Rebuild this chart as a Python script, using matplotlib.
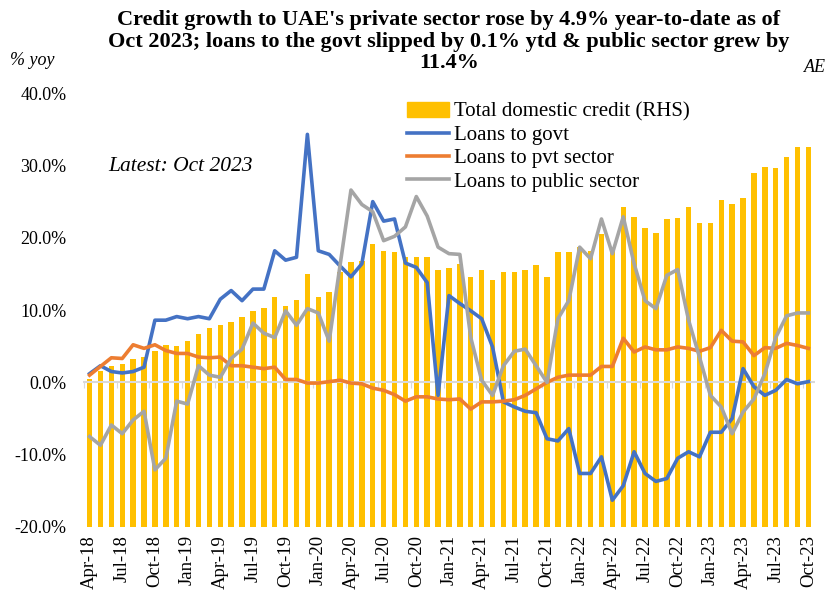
import numpy as np
import pandas as pd
import matplotlib
matplotlib.use("Agg")
import matplotlib.pyplot as plt
from matplotlib.patches import Patch
from matplotlib.lines import Line2D

plt.rcParams['font.family'] = ['Liberation Serif', 'DejaVu Serif']

months = pd.date_range('2018-04-01', '2023-10-01', freq='MS').strftime('%b-%y').tolist()

# total domestic credit, AED bn (RHS)
total_credit = [1604, 1616, 1622, 1625, 1633, 1635, 1643, 1652, 1650, 1657, 1667, 1675,
                1679, 1683, 1690, 1699, 1703, 1718, 1705, 1714, 1750, 1718, 1725, 1752,
                1767, 1768, 1791, 1782, 1780, 1774, 1774, 1773, 1755, 1758, 1764, 1746,
                1756, 1741, 1753, 1752, 1756, 1762, 1746, 1780, 1781, 1787, 1782, 1805,
                1785, 1842, 1829, 1814, 1806, 1826, 1827, 1843, 1820, 1820, 1852, 1847,
                1855, 1889, 1898, 1896, 1912, 1926, 1925]

# % yoy
loans_govt = [1.2, 2.3, 1.5, 1.3, 1.5, 2.1, 8.6, 8.6, 9.1, 8.8, 9.1, 8.8,
              11.5, 12.7, 11.3, 12.9, 12.9, 18.2, 16.9, 17.3, 34.3, 18.2, 17.7, 16.1,
              14.6, 16.4, 25.0, 22.3, 22.6, 16.5, 15.9, 13.8, -1.8, 12.0, 10.9, 9.9,
              8.8, 4.9, -2.7, -3.4, -4.0, -4.2, -7.8, -8.1, -6.4, -12.6, -12.6, -10.3,
              -16.3, -14.3, -9.6, -12.6, -13.7, -13.3, -10.5, -9.6, -10.3, -6.9, -6.9, -5.0,
              1.9, -0.6, -1.8, -1.1, 0.4, -0.2, 0.1]

loans_pvt = [1.0, 2.2, 3.4, 3.3, 5.2, 4.7, 5.2, 4.4, 4.0, 4.0, 3.5, 3.4,
             3.5, 2.3, 2.3, 2.1, 1.9, 2.1, 0.4, 0.4, -0.1, -0.1, 0.1, 0.3,
             -0.1, -0.2, -0.8, -1.1, -1.7, -2.6, -2.0, -2.0, -2.3, -2.4, -2.3, -3.7,
             -2.7, -2.7, -2.6, -2.4, -1.8, -0.9, 0.0, 0.7, 1.0, 1.0, 1.0, 2.2,
             2.2, 6.1, 4.2, 4.9, 4.5, 4.5, 4.9, 4.7, 4.3, 4.8, 7.2, 5.7,
             5.6, 3.7, 4.8, 4.7, 5.4, 5.1, 4.7]

loans_public = [-7.5, -8.7, -5.9, -7.1, -5.2, -4.0, -12.1, -10.5, -2.6, -3.0, 2.3, 1.0,
                0.7, 3.3, 4.6, 8.2, 6.8, 6.2, 9.9, 7.9, 10.2, 9.6, 5.7, 16.2,
                26.6, 24.6, 23.6, 19.6, 20.2, 21.5, 25.7, 23.0, 18.7, 17.8, 17.7, 6.2,
                0.3, -1.8, 2.3, 4.3, 4.6, 2.3, 0.0, 8.8, 11.3, 18.7, 17.1, 22.6,
                17.8, 22.9, 16.4, 11.3, 10.2, 14.8, 15.6, 8.6, 3.5, -1.8, -3.4, -7.1,
                -4.1, -2.3, 1.2, 6.2, 9.2, 9.6, 9.6]

x = np.arange(len(months))

fig = plt.figure(figsize=(8.27, 6.05), dpi=100)
ax = fig.add_axes([0.1004, 0.129, 0.885, 0.717])
ax2 = ax.twinx()

ax2.bar(x, total_credit, width=0.5, bottom=0, color='#FFC000')
ax2.set_ylim(1400, 2000)
ax2.set_yticks([])
for s in ax2.spines.values():
    s.set_visible(False)

ax.set_zorder(ax2.get_zorder() + 1)
ax.patch.set_visible(False)

ax.axhline(0, color='#D9D9D9', lw=1.5, zorder=1)
ax.plot(x, loans_govt, color='#4472C4', lw=2.6, zorder=3)
ax.plot(x, loans_pvt, color='#ED7D31', lw=2.6, zorder=3)
ax.plot(x, loans_public, color='#A5A5A5', lw=2.6, zorder=3)

ax.set_xlim(-0.6, len(months) - 0.4)
ax.set_ylim(-20, 40)
ax.set_yticks(np.arange(-20, 41, 10))
ax.set_yticklabels(['%.1f%%' % v for v in np.arange(-20, 41, 10)], fontsize=13)
ax.tick_params(axis='y', length=0, pad=12)
for s in ax.spines.values():
    s.set_visible(False)

# tick marks on the zero line
ax.spines['bottom'].set_position(('data', 0))
ax.set_xticks(np.arange(-0.5, len(months), 3))
ax.tick_params(axis='x', length=4, color='#D9D9D9', labelbottom=False)

sec = ax.secondary_xaxis(0.0)
sec.set_xticks(x[::3])
sec.set_xticklabels(months[::3], rotation=90, fontsize=13.5)
sec.tick_params(length=0, pad=6)
sec.spines['bottom'].set_visible(False)

fig.text(0.543, 0.983, "Credit growth to UAE's private sector rose by 4.9% year-to-date as of\n"
         "Oct 2023; loans to the govt slipped by 0.1% ytd & public sector grew by\n11.4%",
         ha='center', va='top', fontsize=16, fontweight='bold', linespacing=1.1)
fig.text(0.012, 0.9, '% yoy', fontsize=13, style='italic', va='center')
fig.text(0.999, 0.888, 'AE', fontsize=13, style='italic', va='center', ha='right')
ax.text(0.035, 0.83, 'Latest: Oct 2023', transform=ax.transAxes, fontsize=15.5,
        style='italic', va='center')

handles = [Patch(color='#FFC000'),
           Line2D([], [], color='#4472C4', lw=2.6),
           Line2D([], [], color='#ED7D31', lw=2.6),
           Line2D([], [], color='#A5A5A5', lw=2.6)]
labels = ['Total domestic credit (RHS)', 'Loans to govt', 'Loans to pvt sector',
          'Loans to public sector']
fig.legend(handles, labels, loc='upper left', bbox_to_anchor=(407 / 827, 1 - 102 / 605),
           frameon=False, fontsize=15, borderpad=0, borderaxespad=0,
           handlelength=2.0, handletextpad=0.25, labelspacing=0.18)

fig.savefig('out.png', dpi=100)
